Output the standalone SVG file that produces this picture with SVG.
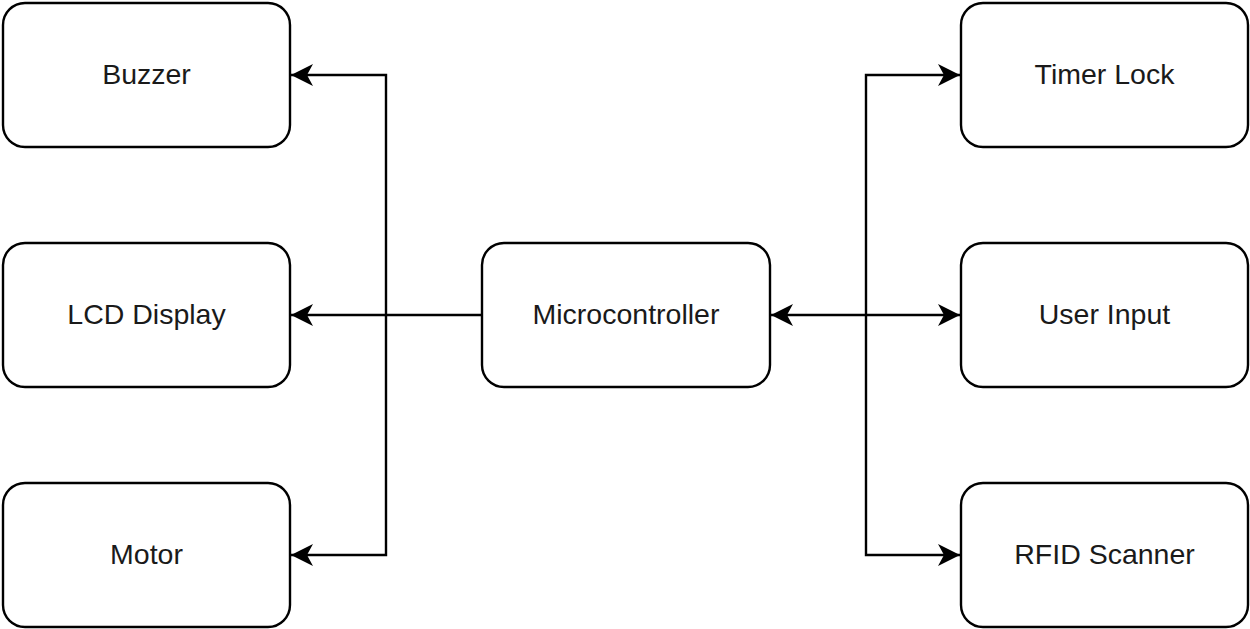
<svg xmlns="http://www.w3.org/2000/svg" width="1250" height="629" viewBox="0 0 1250 629">
<defs>
<marker id="ah" markerWidth="24" markerHeight="22" refX="22" refY="11" orient="auto-start-reverse" markerUnits="userSpaceOnUse">
<path d="M0,0 L22,11 L0,22 L6,11 Z" fill="#000"/>
</marker>
<style>
.box{fill:#fff;stroke:#000;stroke-width:2.4}
.lbl{font-family:"Liberation Sans",Arial,sans-serif;font-size:28.5px;fill:#1a1a1a;text-anchor:middle;dominant-baseline:central}
.c{fill:none;stroke:#000;stroke-width:2.4}
</style>
</defs>
<rect width="1250" height="629" fill="#fff"/>
<g id="connectors">
<polyline class="c" points="482,315 386,315 386,75 291,75" marker-end="url(#ah)"/>
<polyline class="c" points="386,315 291,315" marker-end="url(#ah)"/>
<polyline class="c" points="386,315 386,555 291,555" marker-end="url(#ah)"/>
<polyline class="c" points="771,315 960,315" marker-start="url(#ah)" marker-end="url(#ah)"/>
<polyline class="c" points="866,315 866,75 960,75" marker-end="url(#ah)"/>
<polyline class="c" points="866,315 866,555 960,555" marker-end="url(#ah)"/>
</g>
<g id="buzzer"><rect class="box" x="3" y="3" width="287" height="144" rx="22"/><text class="lbl" x="146.5" y="74">Buzzer</text></g>
<g id="lcd"><rect class="box" x="3" y="243" width="287" height="144" rx="22"/><text class="lbl" x="146.5" y="314">LCD Display</text></g>
<g id="motor"><rect class="box" x="3" y="483" width="287" height="144" rx="22"/><text class="lbl" x="146.5" y="554">Motor</text></g>
<g id="micro"><rect class="box" x="482" y="243" width="288" height="144" rx="22"/><text class="lbl" x="626" y="314">Microcontroller</text></g>
<g id="timer"><rect class="box" x="961" y="3" width="287" height="144" rx="22"/><text class="lbl" x="1104.5" y="74">Timer Lock</text></g>
<g id="userinput"><rect class="box" x="961" y="243" width="287" height="144" rx="22"/><text class="lbl" x="1104.5" y="314">User Input</text></g>
<g id="rfid"><rect class="box" x="961" y="483" width="287" height="144" rx="22"/><text class="lbl" x="1104.5" y="554">RFID Scanner</text></g>
</svg>
